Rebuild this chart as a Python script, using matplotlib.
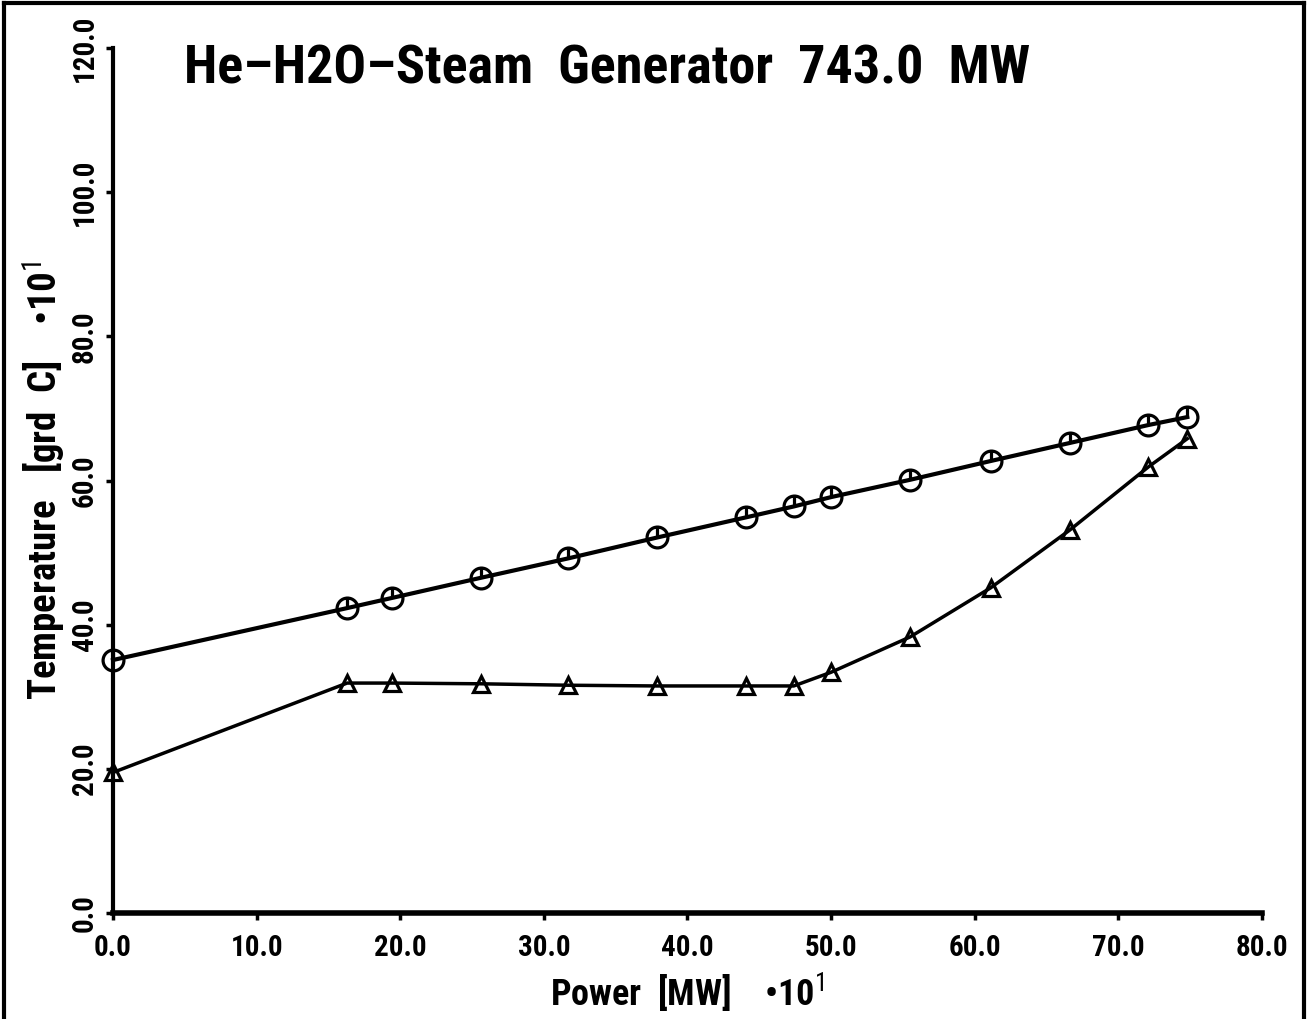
import matplotlib
matplotlib.use("Agg")
import matplotlib.pyplot as plt
from matplotlib import font_manager
from matplotlib.path import Path
from matplotlib.lines import Line2D

# values (both axes are in units of 10)
power = [0.0, 16.3, 19.4, 25.6, 31.7, 37.9, 44.1, 47.4, 50.0, 55.5, 61.1, 66.6, 72.1, 74.8]
t_he = [35.1, 42.3, 43.7, 46.5, 49.2, 52.1, 54.9, 56.4, 57.7, 60.1, 62.7, 65.2, 67.7, 68.8]
t_h2o = [19.5, 31.9, 31.9, 31.8, 31.6, 31.5, 31.5, 31.5, 33.4, 38.3, 45.1, 53.1, 61.9, 65.8]

xticks = [0, 10, 20, 30, 40, 50, 60, 70, 80]
yticks = [0, 20, 40, 60, 80, 100, 120]
title = "He\u2013H2O\u2013Steam  Generator  743.0  MW"


def pick(names):
    for n in names:
        try:
            font_manager.findfont(font_manager.FontProperties(family=n), fallback_to_default=False)
            return n
        except ValueError:
            pass
    return "DejaVu Sans"


fam = pick(["Liberation Sans Narrow", "DejaVu Sans Condensed", "Roboto Condensed", "Liberation Sans"])
plt.rcParams["font.family"] = [fam, "DejaVu Sans"]
plt.rcParams["mathtext.fontset"] = "custom"
plt.rcParams["mathtext.rm"] = fam
plt.rcParams["mathtext.it"] = fam
plt.rcParams["mathtext.bf"] = fam

fig = plt.figure(figsize=(13.08, 10.19), dpi=100)
ax = fig.add_axes([0.0864, 0.104, 0.8784, 0.8489])

# circle with a short stroke to the top, like the plotter symbol
he_marker = Path.make_compound_path(
    Path.unit_circle(), Path([(0, 0), (0, 1)], [Path.MOVETO, Path.LINETO]))

ax.plot(power, t_he, color="black", lw=3, marker=he_marker, markersize=15,
        markerfacecolor="none", markeredgewidth=2.3, clip_on=False, zorder=3)
ax.plot(power, t_h2o, color="black", lw=2.5, marker="^", markersize=12,
        markerfacecolor="none", markeredgewidth=2.3, clip_on=False, zorder=3)

ax.set_xlim(0, 80)
ax.set_ylim(0, 120)
ax.spines["top"].set_visible(False)
ax.spines["right"].set_visible(False)
ax.spines["left"].set_linewidth(3)
ax.spines["bottom"].set_linewidth(4)

ax.set_xticks(xticks)
ax.set_xticklabels(["%.1f" % v for v in xticks], fontsize=21, fontweight="bold")
ax.set_yticks(yticks)
ax.set_yticklabels(["%.1f" % v for v in yticks], fontsize=21, fontweight="bold",
                   rotation=90, va="center")
ax.tick_params(axis="both", direction="out", length=5, width=2.5)
ax.tick_params(axis="x", pad=10)
ax.tick_params(axis="y", pad=5)

ax.set_xlabel("Power  [MW]    \u202210$^{1}$", fontsize=26, fontweight="bold", labelpad=6)
ax.set_ylabel("Temperature   [grd  C]    \u202210$^{1}$", fontsize=28, fontweight="bold",
              labelpad=2)

fig.text(0.141, 0.932, title, fontsize=39, fontweight="bold", ha="left", va="center")

# frame around the page (left, top, right)
for xs, ys in [([0.003, 0.003], [0.0, 0.997]), ([0.003, 0.997], [0.997, 0.997]),
               ([0.997, 0.997], [0.997, 0.0])]:
    fig.add_artist(Line2D(xs, ys, color="black", lw=3, transform=fig.transFigure))

fig.savefig("out.png", dpi=100, facecolor="white")
